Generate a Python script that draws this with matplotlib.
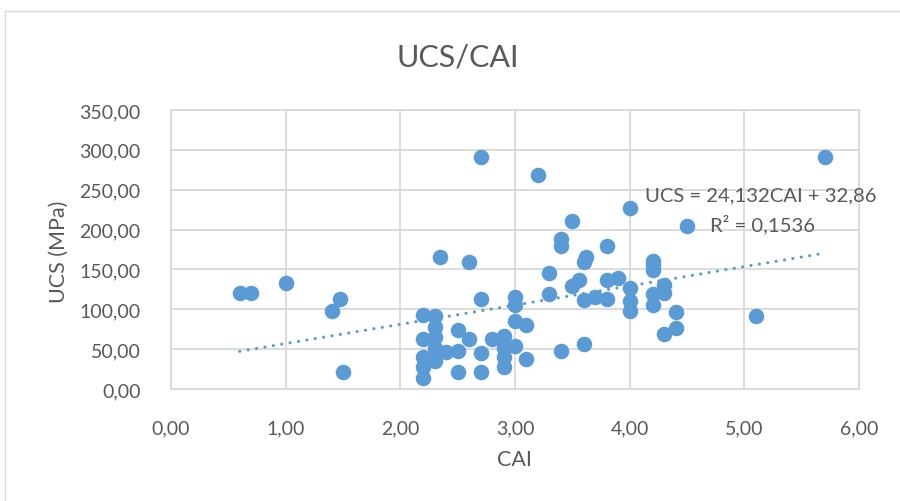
import matplotlib
matplotlib.use("Agg")
import matplotlib.pyplot as plt
import numpy as np

plt.rcParams['font.family'] = ['Lato', 'DejaVu Sans']

cai = [0.6, 0.7, 1.0, 1.4, 1.47, 1.5,
       2.7, 3.2, 2.35, 2.6,
       2.2, 2.3, 2.3, 2.3, 2.2, 2.5, 2.6, 2.8, 2.9, 3.0, 3.1, 3.0, 2.9, 2.9, 2.9,
       3.1, 2.7, 2.7, 2.5, 2.5, 2.4, 2.3, 2.3, 2.2, 2.2, 2.2, 3.4, 3.6, 2.7, 3.0, 3.0,
       3.4, 3.4, 3.5, 3.3, 3.3, 3.5, 3.56, 3.6, 3.62, 3.6, 3.7, 3.8, 3.8, 3.8, 3.9,
       4.0, 4.0, 4.0, 4.0, 4.2, 4.2, 4.2, 4.2, 4.2, 4.3, 4.3, 4.4, 4.4, 4.3, 4.5,
       5.1, 5.7]
ucs = [120.5, 120.5, 133, 98, 112.5, 21.5,
       291, 268, 165, 159,
       93, 91, 78, 65, 62.5, 73.5, 62.5, 62.5, 66.5, 85, 80, 53.5, 52, 40, 27,
       37.5, 45, 21, 21, 48, 47, 51, 35.5, 40, 27, 13.5, 47.5, 56, 113, 115, 106,
       188, 179, 211, 145, 119, 129, 137, 159, 165, 112, 116, 113, 137, 179, 139,
       227, 127, 110, 98, 161, 155, 149, 119, 105, 131, 121, 96, 76, 69, 205,
       92, 291]

slope = 24.132
intercept = 32.86
eq_text = "UCS = 24,132CAI + 32,86"
r2_text = "R² = 0,1536"

title = "UCS/CAI"
xlabel = "CAI"
ylabel = "UCS (MPa)"
xticks = [0, 1, 2, 3, 4, 5, 6]
yticks = [0, 50, 100, 150, 200, 250, 300, 350]

W, H = 900, 502
fig = plt.figure(figsize=(W/100, H/100), dpi=100)
ax = fig.add_axes([171/W, 1-390/H, 688/W, 279/H])

grid_c = '#D9D9D9'
text_c = '#595959'
blue = '#5B9BD5'

# chart border (top and left visible)
fig.add_artist(plt.Line2D([5/W, 1], [1-12/H, 1-12/H], color=grid_c, lw=1.0, transform=fig.transFigure))
fig.add_artist(plt.Line2D([5/W, 5/W], [0, 1-12/H], color=grid_c, lw=1.0, transform=fig.transFigure))

ax.set_xlim(0, 6)
ax.set_ylim(0, 350)
ax.set_xticks(xticks)
ax.set_yticks(yticks)
ax.set_xticklabels([f"{v:.2f}".replace('.', ',') for v in xticks])
ax.set_yticklabels([f"{v:.2f}".replace('.', ',') for v in yticks])
ax.grid(True, color=grid_c, lw=1.3)
ax.set_axisbelow(True)
for s in ax.spines.values():
    s.set_color(grid_c)
    s.set_linewidth(1.3)
ax.tick_params(length=0, colors=text_c, labelsize=14)
ax.tick_params(axis='x', pad=22)
ax.tick_params(axis='y', pad=22)

xs = np.array([min(cai), max(cai)])
ax.plot(xs, slope*xs + intercept, color=blue, lw=2.3,
        linestyle=(0, (0.01, 2.65)), dash_capstyle='round', zorder=2)

ax.plot(cai, ucs, 'o', color=blue, markersize=11.2, markeredgewidth=0, zorder=3)

ax.text(761/W, 1-196/H, eq_text, transform=fig.transFigure, ha='center', va='center',
        fontsize=14.6, color=text_c)
ax.text(762/W, 1-225/H, r2_text, transform=fig.transFigure, ha='center', va='center',
        fontsize=14.6, color=text_c)

fig.text(458/W, 1-57/H, title, ha='center', va='center', fontsize=22, color=text_c)
fig.text(515/W, 1-460/H, xlabel, ha='center', va='center', fontsize=15.5, color=text_c)
fig.text(59/W, 1-252/H, ylabel, ha='center', va='center', rotation=90, fontsize=15.5, color=text_c)

fig.savefig('out.png', dpi=100)
